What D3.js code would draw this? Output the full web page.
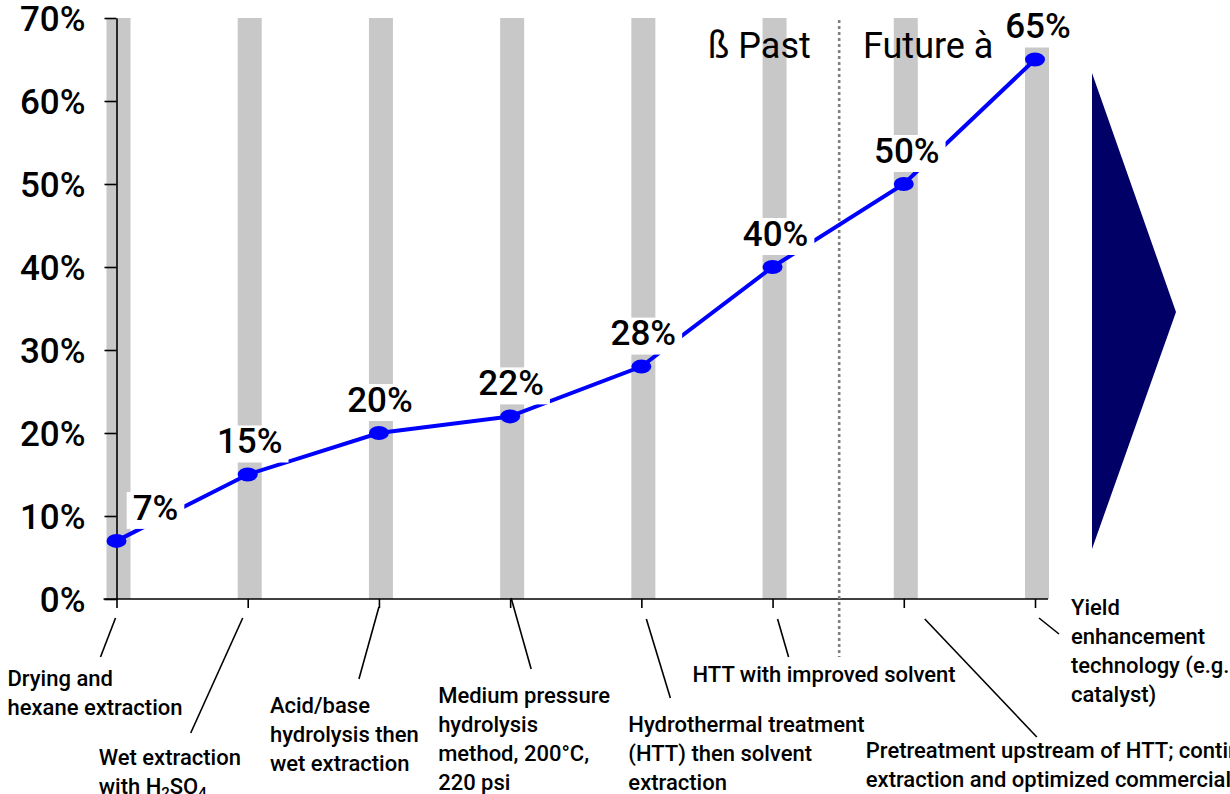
<!DOCTYPE html>
<html>
<head>
<meta charset="utf-8">
<script src="https://cdn.jsdelivr.net/npm/d3@7"></script>
<style>
  html, body { margin: 0; padding: 0; background: #fff; }
  svg { display: block; }
  text { font-family: Roboto, "Open Sans", sans-serif; fill: #000; }
</style>
</head>
<body>
<svg id="chart" width="1230" height="794"></svg>
<script>
// ---- data ----
const categories = [
  ["Drying and", "hexane extraction"],
  ["Wet extraction", "with H2SO4"],
  ["Acid/base", "hydrolysis then", "wet extraction"],
  ["Medium pressure", "hydrolysis", "method, 200°C,", "220 psi"],
  ["Hydrothermal treatment", "(HTT) then solvent", "extraction"],
  ["HTT with improved solvent"],
  ["Pretreatment upstream of HTT; continuous", "extraction and optimized commercial process"],
  ["Yield", "enhancement", "technology (e.g.", "catalyst)"]
];
const yieldValues = [7, 15, 20, 22, 28, 40, 50, 65];
const yTicks = [0, 10, 20, 30, 40, 50, 60, 70];
const periodLabels = ["ß Past", "Future à"];

// ---- layout (positions only) ----
// label text anchor: [dx from tick, first baseline y]
const catLabelPos = [[-109, 686], [-149, 765], [-109, 713], [-72, 703], [-13, 732], [-80, 682], [-38, 758], [36, 615]];
// leader line: [x1 offset, y1, x2 offset, y2]
const leaderPos = [[-1, 618, -16, 657], [-5, 618, -57, 733], [0, 607, -20, 679], [1, 598, 21, 669],
                   [5, 619, 29, 698], [5, 619, 16, 657], [21, 619, 133, 737], [4, 618, 24, 634]];
const valueLabelDx = [39, 2, 1, 1, 2, 3, 3, 3];

const svg = d3.select("#chart");
const x = d3.scalePoint().domain(d3.range(categories.length)).range([116.5, 1035]);
const y = d3.scaleLinear().domain([0, 70]).range([599, 18]);

// gray columns
svg.append("g").selectAll("rect").data(yieldValues).join("rect")
  .attr("x", (d, i) => x(i) - 10)
  .attr("width", 24)
  .attr("y", y(70))
  .attr("height", y(0) - y(70))
  .attr("fill", "#c8c8c8");

// y axis
const yAxis = svg.append("g").attr("transform", `translate(${x(0)},0)`)
  .call(d3.axisLeft(y).tickValues(yTicks).tickFormat(d => d + "%").tickSize(12).tickSizeOuter(0).tickPadding(19));
yAxis.select(".domain").attr("stroke", "#000").attr("stroke-width", 1.6);
yAxis.selectAll(".tick line").attr("stroke", "#000").attr("stroke-width", 1.6);
yAxis.selectAll(".tick text").attr("font-size", 35).attr("font-weight", 500)
  .attr("font-family", "Roboto, sans-serif").attr("fill", "#000").attr("dy", "0.36em");

// x axis
const xAxis = svg.append("g").attr("transform", `translate(0,${y(0)})`)
  .call(d3.axisBottom(x).tickSize(9).tickFormat("").tickSizeOuter(0));
xAxis.select(".domain").remove();
xAxis.selectAll(".tick line").attr("stroke", "#000").attr("stroke-width", 1.6);
svg.append("line")
  .attr("x1", x(0) - 13).attr("x2", x(categories.length - 1) + 13)
  .attr("y1", y(0)).attr("y2", y(0))
  .attr("stroke", "#000").attr("stroke-width", 1.6);

// past / future divider
const divX = (x(5) + x(6)) / 2 + 1;
svg.append("line")
  .attr("x1", divX).attr("x2", divX).attr("y1", 20).attr("y2", 657)
  .attr("stroke", "#808080").attr("stroke-width", 2.6).attr("stroke-dasharray", "3,3");

svg.append("text").attr("x", 708).attr("y", 58).attr("font-size", 36).attr("font-weight", 400).text(periodLabels[0]);
svg.append("text").attr("x", 863).attr("y", 58).attr("font-size", 36).attr("font-weight", 400).text(periodLabels[1]);

// line
svg.append("path").datum(yieldValues)
  .attr("d", d3.line().x((d, i) => x(i)).y(d => y(d)))
  .attr("fill", "none").attr("stroke", "#0000ff").attr("stroke-width", 4);

svg.append("g").selectAll("ellipse").data(yieldValues).join("ellipse")
  .attr("cx", (d, i) => x(i)).attr("cy", d => y(d))
  .attr("rx", 10).attr("ry", 7).attr("fill", "#0000ff");

// value labels with white boxes
const lbl = svg.append("g").selectAll("g").data(yieldValues).join("g");
lbl.each(function (d, i) {
  const g = d3.select(this);
  const cx = x(i) + valueLabelDx[i];
  const cy = y(d) - 34;
  const rect = g.append("rect").attr("fill", "#fff");
  const t = g.append("text").attr("x", cx).attr("y", cy + 12.6)
    .attr("text-anchor", "middle").attr("font-size", 35).attr("font-weight", 500).text(d + "%");
  const bb = t.node().getBBox();
  rect.attr("x", bb.x - 6).attr("width", bb.width + 12).attr("y", cy - 15).attr("height", 37);
});

// triangle arrow
svg.append("path")
  .attr("d", d3.line()([[1092, 73], [1176, 312], [1092, 549]]) + "Z")
  .attr("fill", "#000066");

// category labels + leader lines
categories.forEach((lines, i) => {
  const lp = leaderPos[i];
  svg.append("line")
    .attr("x1", x(i) + lp[0]).attr("y1", lp[1])
    .attr("x2", x(i) + lp[2]).attr("y2", lp[3])
    .attr("stroke", "#000").attr("stroke-width", 1.6);
  const p = catLabelPos[i];
  const t = svg.append("text").attr("font-size", 22).attr("font-weight", 500);
  lines.forEach((ln, k) => {
    const ts = t.append("tspan").attr("x", x(i) + p[0]).attr("y", p[1] + k * 29);
    if (ln.includes("H2SO4")) {
      ts.text("with H");
      t.append("tspan").attr("font-size", 15).attr("dy", 4).text("2");
      t.append("tspan").attr("dy", -4).text("SO");
      t.append("tspan").attr("font-size", 15).attr("dy", 4).text("4");
    } else {
      ts.text(ln);
    }
  });
});
</script>
</body>
</html>
